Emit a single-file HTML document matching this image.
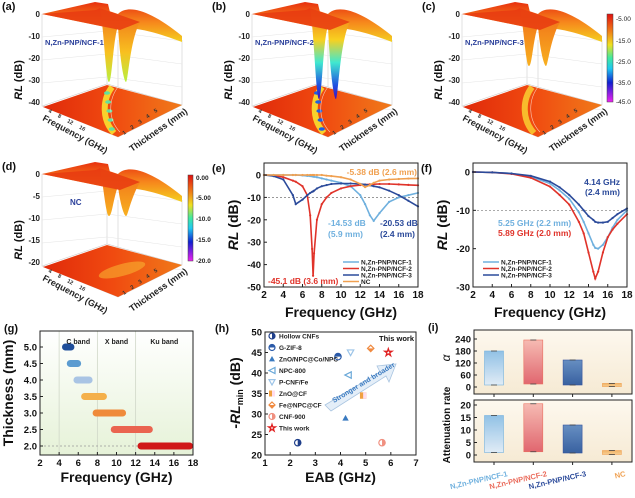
<!DOCTYPE html>
<html><head><meta charset="utf-8">
<style>
body{margin:0;background:#fff}
svg{display:block;font-family:"Liberation Sans",sans-serif;font-weight:bold}
</style></head>
<body>
<svg id="fig" width="635" height="498" viewBox="0 0 635 498" xmlns="http://www.w3.org/2000/svg">
<defs>
<linearGradient id="surf" x1="0" y1="0" x2="0" y2="1"><stop offset="0" stop-color="#e8300e"/><stop offset="0.5" stop-color="#f6861c"/><stop offset="1" stop-color="#f4d020"/></linearGradient>
<linearGradient id="dipA" x1="0" y1="0" x2="0" y2="1"><stop offset="0" stop-color="#f06a18"/><stop offset="0.6" stop-color="#f8c020"/><stop offset="1" stop-color="#b8f040"/></linearGradient>
<linearGradient id="dipB" x1="0" y1="0" x2="0" y2="1"><stop offset="0" stop-color="#f06a18"/><stop offset="0.35" stop-color="#f8d020"/><stop offset="0.6" stop-color="#40e8d0"/><stop offset="0.85" stop-color="#2050e0"/><stop offset="1" stop-color="#4010c0"/></linearGradient>
<linearGradient id="dipC" x1="0" y1="0" x2="0" y2="1"><stop offset="0" stop-color="#f06a18"/><stop offset="1" stop-color="#f8b020"/></linearGradient>
<linearGradient id="floor" x1="0" y1="0" x2="1" y2="0"><stop offset="0" stop-color="#e02a0a"/><stop offset="0.5" stop-color="#f04a10"/><stop offset="1" stop-color="#f07a1a"/></linearGradient>
<linearGradient id="cbar" x1="0" y1="0" x2="0" y2="1"><stop offset="0" stop-color="#e01010"/><stop offset="0.2" stop-color="#f08018"/><stop offset="0.35" stop-color="#f0e020"/><stop offset="0.5" stop-color="#40e8a0"/><stop offset="0.62" stop-color="#20c8f0"/><stop offset="0.78" stop-color="#1020d0"/><stop offset="1" stop-color="#f020f0"/></linearGradient>
<linearGradient id="gbg" x1="0" y1="0" x2="0" y2="1"><stop offset="0" stop-color="#ffffff"/><stop offset="1" stop-color="#e6f2d8"/></linearGradient>
<linearGradient id="ibg" x1="0" y1="0" x2="0" y2="1"><stop offset="0" stop-color="#fdf8ee"/><stop offset="1" stop-color="#f6ead4"/></linearGradient>
<linearGradient id="b1" x1="0" y1="0" x2="0" y2="1"><stop offset="0" stop-color="#8cbfe6"/><stop offset="1" stop-color="#e0ecf8"/></linearGradient>
<linearGradient id="b2" x1="0" y1="0" x2="0" y2="1"><stop offset="0" stop-color="#f6b8b0"/><stop offset="1" stop-color="#e0606a"/></linearGradient>
<linearGradient id="b3" x1="0" y1="0" x2="0" y2="1"><stop offset="0" stop-color="#5f8ac0"/><stop offset="1" stop-color="#2f5a9e"/></linearGradient>
<linearGradient id="b4" x1="0" y1="0" x2="0" y2="1"><stop offset="0" stop-color="#f0b060"/><stop offset="1" stop-color="#f7cc90"/></linearGradient>
</defs>

<g id="p3d"></g>

<g>
<rect x="607" y="14" width="6" height="88" fill="url(#cbar)" stroke="#444" stroke-width="0.5"/>
<g font-size="6.5" fill="#222" font-weight="normal">
<text x="616" y="21">-5.00</text><text x="616" y="43">-15.0</text><text x="616" y="64">-25.0</text><text x="616" y="85">-35.0</text><text x="616" y="104">-45.0</text></g>
</g>
<g>
<rect x="188" y="175" width="5" height="86" fill="url(#cbar)" stroke="#444" stroke-width="0.5"/>
<g font-size="6.5" fill="#222"><text x="196" y="180">0.00</text><text x="196" y="200">-5.00</text><text x="196" y="221">-10.0</text><text x="196" y="242">-15.0</text><text x="196" y="263">-20.0</text></g>
</g>

<g id="pe"></g><g id="pf"></g><g id="pg"></g><g id="ph"></g><g id="pi"></g>
</svg>
<script>
const NS='http://www.w3.org/2000/svg';
function mk(parent,tag,attrs,text){const e=document.createElementNS(NS,tag);for(const k in attrs)e.setAttribute(k,attrs[k]);if(text!==undefined)e.textContent=text;parent.appendChild(e);return e;}

const p3d=document.getElementById('p3d');
const panels3d=[{dx:0,dy:0,lab:'(a)',name:'N,Zn-PNP/NCF-1',dip:'dipA',depth:68,ticks:['0','-10','-20','-30','-40']},
{dx:210,dy:0,lab:'(b)',name:'N,Zn-PNP/NCF-2',dip:'dipB',depth:85,ticks:['0','-10','-20','-30','-40']},
{dx:420,dy:0,lab:'(c)',name:'N,Zn-PNP/NCF-3',dip:'dipC',depth:52,ticks:['0','-10','-20','-30','-40']},
{dx:0,dy:160,lab:'(d)',name:'NC',dip:'dipC',depth:42,ticks:['0','-5','-10','-15','-20']}];
panels3d.forEach((p,i)=>{
 const g=mk(p3d,'g',{transform:`translate(${p.dx},${p.dy})`});
 
 
 mk(g,'path',{d:'M42,14 L42,106 L118,137 L182,105 L182,40 M118,137 L118,40 M42,106 L107,84 L182,105 M107,84 L107,8',stroke:'#ccc','stroke-width':0.6,fill:'none'});
 for(let k=1;k<5;k++){const y=14+k*23;mk(g,'path',{d:`M42,${y} L107,${y-6} L182,${y+4}`,stroke:'#e4e4e4','stroke-width':0.5,fill:'none'});}
 mk(g,'polygon',{points:'43,107 107,85 182,105 118,137',fill:'url(#floor)'});
 if(i<3){mk(g,'path',{d:'M112,87 C102,100 102,120 114,133',stroke:i==2?'#f8c830':'#f8e030','stroke-width':6,fill:'none',opacity:0.9});
  if(i<2){for(let k=0;k<5;k++){mk(g,'ellipse',{cx:107+k*1.2,cy:93+k*9,rx:3,ry:1.8,fill:i==1?'#2060e0':'#60e0a0'});}}
  mk(g,'path',{d:'M118,87 C108,100 108,120 120,132',stroke:'#fff','stroke-width':0.6,fill:'none',opacity:0.7});}
 else{mk(g,'ellipse',{cx:122,cy:110,rx:24,ry:6,fill:'#f8b030',opacity:0.6,transform:'rotate(-15 122 110)'});}
 mk(g,'path',{d:'M42,14 L95,2 L108,4 C112,20 116,40 118,14 C128,4 150,10 182,36 L182,42 C150,30 130,26 120,30 Z',fill:'url(#surf)'});
 mk(g,'path',{d:`M100,8 C104,30 106,${14+p.depth} 109,${14+p.depth} C112,${14+p.depth} 113,40 118,26 C120,${14+p.depth*0.7} 124,${14+p.depth} 126,${14+p.depth} C128,${14+p.depth} 130,40 140,22 L118,14 Z`,fill:`url(#${p.dip})`});
 mk(g,'path',{d:'M42,14 L96,10 L100,8 L140,22 L120,30',fill:'#e83a10',opacity:0.85});
 mk(g,'text',{x:2,y:10,'font-size':11,fill:'#111'},p.lab);
 p.ticks.forEach((t,k)=>mk(g,'text',{x:40,y:17+k*22,'font-size':8,'text-anchor':'end',fill:'#222'},t));
 mk(g,'text',{x:0,y:0,'font-size':11,transform:'translate(22,80) rotate(-90)','text-anchor':'middle',fill:'#111'}).innerHTML='<tspan font-style="italic">RL</tspan> (dB)';
 mk(g,'text',{x:i==3?70:45,y:45,'font-size':i==3?8:7.5,fill:'#2a3f9a'},p.name);
 mk(g,'text',{x:0,y:0,'font-size':9,transform:'translate(42,120) rotate(28)',fill:'#222'},'Frequency (GHz)');
 mk(g,'text',{x:0,y:0,'font-size':5.5,transform:'translate(48,112) rotate(28)',fill:'#333',"word-spacing":"6"},'4 8 12 16');
 mk(g,'text',{x:0,y:0,'font-size':9,transform:'translate(132,152) rotate(-35)',fill:'#222'},'Thickness (mm)');
 mk(g,'text',{x:0,y:0,'font-size':5.5,transform:'translate(124,135) rotate(-35)',fill:'#333',"word-spacing":"5"},'1 2 3 4 5');
});

const eFreq=[2,3,4,5,5.3,6,6.5,6.8,7,7.1,7.2,7.5,8,8.5,9,10,11,12,12.5,13,13.4,14,15,16,17,18];
const eNCF1=[0,0,0,0,0,-0.2,-0.4,-0.5,-0.6,-0.7,-0.8,-1,-1.5,-2,-2.5,-3.5,-5,-9,-13,-18,-20.5,-17,-12,-10,-9,-8];
const eNCF2=[0,-0.2,-1,-2.5,-3,-5,-9,-18,-33,-45,-35,-20,-13,-10,-8,-6,-5,-4.5,-4.3,-4.2,-4.1,-4,-4,-4.2,-4.4,-4.6];
const eNCF3=[0,-0.5,-2,-9,-13,-11,-9,-8,-7.5,-7.3,-7,-6,-5,-4.5,-4,-3.8,-3.8,-4,-4.3,-4.6,-5,-5.5,-7,-9,-11.5,-14];
const eNC=[0,0,0,0,0,0,0,0,0,0,0,0,0,-0.3,-0.5,-1,-2,-4,-5.4,-4.5,-3.5,-2.5,-2,-1.8,-1.6,-1.5];
const eXTicks=[2,4,6,8,10,12,14,16,18];
const eYTicks=[0,-10,-20,-30,-40,-50];

const fFreq=[2,4,6,8,10,11,12,13,13.5,14,14.5,14.7,15,15.5,16,16.5,17,18];
const fNCF1=[0,-0.1,-0.4,-1.2,-3,-4.8,-7,-10.5,-13,-16,-19,-19.8,-20,-19,-17,-14.5,-12.5,-10];
const fNCF2=[0,-0.1,-0.5,-1.5,-3.8,-6,-8.5,-13,-16,-21,-26,-27.8,-26,-21,-17,-15,-13.5,-11];
const fNCF3=[0,-0.1,-0.4,-1,-2.5,-4,-6,-8.5,-10,-11.5,-12.5,-13,-13.2,-13.2,-13,-12,-11,-9.5];
const fXTicks=[2,4,6,8,10,12,14,16,18];
const fYTicks=[0,-10,-20,-30];

function lineChart(gid,cfg){
 const g=document.getElementById(gid);
 const sx=v=>cfg.x0+(v-cfg.xmin)/(cfg.xmax-cfg.xmin)*(cfg.x1-cfg.x0);
 const sy=v=>cfg.y0+(v-cfg.ymax)/(cfg.ymin-cfg.ymax)*(cfg.y1-cfg.y0);
 mk(g,'line',{x1:cfg.x0,x2:cfg.x1,y1:sy(-10),y2:sy(-10),stroke:'#777','stroke-width':0.7,'stroke-dasharray':'2,2'});
 cfg.series.forEach(s=>{
  const pts=cfg.xs.map((x,i)=>sx(x).toFixed(1)+','+sy(s.v[i]).toFixed(1)).join(' ');
  const pl=mk(g,'polyline',{points:pts,fill:'none',stroke:s.c,'stroke-width':1.6});
  
  
  cfg.xs.forEach((x,i)=>{const m=mk(g,'circle',{cx:sx(x),cy:sy(s.v[i]),r:1.1,fill:s.c});
   
   });
 });
 mk(g,'rect',{x:cfg.x0,y:cfg.top,width:cfg.x1-cfg.x0,height:cfg.y1-cfg.top,fill:'none',stroke:'#222','stroke-width':1});
 cfg.xt.forEach(t=>{mk(g,'line',{x1:sx(t),x2:sx(t),y1:cfg.y1,y2:cfg.y1-3,stroke:'#222'});
  const tx=mk(g,'text',{x:sx(t),y:cfg.y1+11,'font-size':10,'text-anchor':'middle',fill:'#111'},t);
  
  });
 cfg.yt.forEach(t=>{mk(g,'line',{x1:cfg.x0,x2:cfg.x0+3,y1:sy(t),y2:sy(t),stroke:'#222'});
  const tx=mk(g,'text',{x:cfg.x0-3,y:sy(t)+3.5,'font-size':9.5,'text-anchor':'end',fill:'#111'},t);
  
  });
 mk(g,'text',{x:(cfg.x0+cfg.x1)/2,y:cfg.y1+30,'font-size':14,'text-anchor':'middle',fill:'#111'},'Frequency (GHz)');
 mk(g,'text',{transform:`translate(${cfg.x0-26},${(cfg.top+cfg.y1)/2}) rotate(-90)`,'font-size':14,'text-anchor':'middle',fill:'#111'}).innerHTML='<tspan font-style="italic">RL</tspan> (dB)';
 mk(g,'text',{x:cfg.x0-52,y:cfg.top+9,'font-size':11,fill:'#111'},cfg.lab);
 cfg.series.forEach((s,i)=>{const y=cfg.legY+i*6.5;
  mk(g,'line',{x1:cfg.legX,x2:cfg.legX+16,y1:y,y2:y,stroke:s.c,'stroke-width':1.5});
  mk(g,'text',{x:cfg.legX+18,y:y+2.5,'font-size':6.5,fill:'#222'},s.label);});
 return {sx,sy,g};
}
const E=lineChart('pe',{x0:264,x1:418,top:163,y0:175,y1:287,xmin:2,xmax:18,ymax:0,ymin:-50,xs:eFreq,xt:eXTicks,yt:eYTicks,lab:'(e)',legX:343,legY:262,
 series:[{n:'ncf1',c:'#6fb0de',v:eNCF1,label:'N,Zn-PNP/NCF-1'},{n:'ncf2',c:'#e0332a',v:eNCF2,label:'N,Zn-PNP/NCF-2'},{n:'ncf3',c:'#2b4a9a',v:eNCF3,label:'N,Zn-PNP/NCF-3'},{n:'nc',c:'#f0a050',v:eNC,label:'NC'}]});
document.getElementById('pe');
document.getElementById('pe');
(()=>{const g=E.g;
mk(g,'text',{x:417,y:175,'font-size':8.5,'text-anchor':'end',fill:'#f0a050'},'-5.38 dB (2.6 mm)');
mk(g,'text',{x:328,y:226,'font-size':8.5,fill:'#6fb0de'},'-14.53 dB');
mk(g,'text',{x:328,y:237,'font-size':8.5,fill:'#6fb0de'},'(5.9 mm)');
mk(g,'text',{x:380,y:226,'font-size':8.5,fill:'#2b4a9a'},'-20.53 dB');
mk(g,'text',{x:380,y:237,'font-size':8.5,fill:'#2b4a9a'},'(2.4 mm)');
mk(g,'text',{x:268,y:284,'font-size':8.5,fill:'#e0332a'},'-45.1 dB (3.6 mm)');})();

const F=lineChart('pf',{x0:473,x1:627,top:163,y0:172,y1:287,xmin:2,xmax:18,ymax:0,ymin:-30,xs:fFreq,xt:fXTicks,yt:fYTicks,lab:'(f)',legX:483,legY:262,
 series:[{n:'ncf1',c:'#6fb0de',v:fNCF1,label:'N,Zn-PNP/NCF-1'},{n:'ncf2',c:'#e0332a',v:fNCF2,label:'N,Zn-PNP/NCF-2'},{n:'ncf3',c:'#2b4a9a',v:fNCF3,label:'N,Zn-PNP/NCF-3'}]});
document.getElementById('pf');
document.getElementById('pf');
(()=>{const g=F.g;
mk(g,'text',{x:620,y:185,'font-size':8.5,'text-anchor':'end',fill:'#2b4a9a'},'4.14 GHz');
mk(g,'text',{x:620,y:195,'font-size':8.5,'text-anchor':'end',fill:'#2b4a9a'},'(2.4 mm)');
mk(g,'text',{x:498,y:226,'font-size':8.5,fill:'#6fb0de'},'5.25 GHz (2.2 mm)');
mk(g,'text',{x:498,y:236,'font-size':8.5,fill:'#e0332a'},'5.89 GHz (2.0 mm)');})();

const gThick=[5.0,4.5,4.0,3.5,3.0,2.5,2.0];
const gStart=[4.3,4.8,5.5,6.3,7.5,9.4,12.2];
const gEnd=[5.6,6.3,7.5,9.0,11.0,13.8,18];
const gXTicks=[2,4,6,8,10,12,14,16,18];
const gYTicks=[5.0,4.5,4.0,3.5,3.0,2.5,2.0];
(()=>{const g=document.getElementById('pg');


const x0=40,x1=193,top=331,bot=455;
const sx=v=>x0+(v-2)/16*(x1-x0), sy=v=>347+(5-v)/3*99;
const cols=['#1f4e9a','#5b9bd0','#a9c4e4','#f4b04a','#ef8a3a','#ea6450','#d01818'];
mk(g,'rect',{x:x0,y:top,width:x1-x0,height:bot-top,fill:'url(#gbg)'});
[4,8,12].forEach(b=>mk(g,'line',{x1:sx(b),x2:sx(b),y1:top,y2:bot,stroke:'#d0d8c8','stroke-width':0.8}));
mk(g,'line',{x1:x0,x2:x1,y1:sy(2),y2:sy(2),stroke:'#999','stroke-dasharray':'2,2','stroke-width':0.7});
gThick.forEach((t,i)=>{const r=mk(g,'rect',{x:sx(gStart[i]),y:sy(t)-3.5,width:sx(gEnd[i])-sx(gStart[i]),height:7,rx:3.5,fill:cols[i]});
 
 });
mk(g,'text',{x:sx(6),y:344,'font-size':7,'text-anchor':'middle',fill:'#222'},'C band');
mk(g,'text',{x:sx(10),y:344,'font-size':7,'text-anchor':'middle',fill:'#222'},'X band');
mk(g,'text',{x:sx(15),y:344,'font-size':7,'text-anchor':'middle',fill:'#222'},'Ku band');
mk(g,'rect',{x:x0,y:top,width:x1-x0,height:bot-top,fill:'none',stroke:'#222'});
gXTicks.forEach(t=>{mk(g,'line',{x1:sx(t),x2:sx(t),y1:bot,y2:bot-3,stroke:'#222'});mk(g,'text',{x:sx(t),y:bot+11,'font-size':9.5,'text-anchor':'middle',fill:'#111'},t);});
gYTicks.forEach(t=>{mk(g,'line',{x1:x0,x2:x0+3,y1:sy(t),y2:sy(t),stroke:'#222'});mk(g,'text',{x:x0-3,y:sy(t)+3.5,'font-size':9.5,'text-anchor':'end',fill:'#111'},t.toFixed(1));});
mk(g,'text',{x:(x0+x1)/2,y:482,'font-size':14,'text-anchor':'middle',fill:'#111'},'Frequency (GHz)');
mk(g,'text',{transform:`translate(13,393) rotate(-90)`,'font-size':14,'text-anchor':'middle',fill:'#111'},'Thickness (mm)');
mk(g,'text',{x:4,y:332,'font-size':11,fill:'#111'},'(g)');})();

const hNames=['Hollow CNFs','G-ZIF-8','ZnO/NPC@Co/NPC','NPC-800','P-CNF/Fe','ZnO@CF','Fe@NPC@CF','CNF-900','This work'];
const hEAB=[2.3,3.9,4.2,4.3,4.4,4.9,5.2,5.65,5.9];
const hRL=[23,44,29,39.5,45,34.5,46,23,45];
const hXTicks=[1,2,3,4,5,6,7];
const hYTicks=[20,25,30,35,40,45,50];
(()=>{const g=document.getElementById('ph');


const x0=265,x1=416,top=332,bot=455;
const sx=v=>x0+(v-1)/6*(x1-x0), sy=v=>bot-(v-20)/30*(bot-top);
const cols=['#1f3f8a','#2b5aa8','#3a7ac0','#6aa8d8','#9cc4e8','#f0a040','#f08a40','#f09080','#e02020'];
function marker(kind,x,y,c,s){
 if(kind==0||kind==1||kind==7){mk(g,'circle',{cx:x,cy:y,r:s,fill:'#fff',stroke:c,'stroke-width':1.2});mk(g,'path',{d:kind==1?`M${x-s},${y} A${s},${s} 0 0 1 ${x+s},${y}Z`:`M${x},${y-s} A${s},${s} 0 0 1 ${x},${y+s}Z`,fill:c});}
 else if(kind==2){mk(g,'polygon',{points:`${x},${y-s} ${x+s},${y+s*0.8} ${x-s},${y+s*0.8}`,fill:c});}
 else if(kind==3){mk(g,'polygon',{points:`${x-s},${y} ${x+s},${y-s} ${x+s},${y+s}`,fill:'#fff',stroke:c,'stroke-width':1.2});}
 else if(kind==4){mk(g,'polygon',{points:`${x-s},${y-s*0.8} ${x+s},${y-s*0.8} ${x},${y+s}`,fill:'#fff',stroke:c,'stroke-width':1.2});}
 else if(kind==5){mk(g,'rect',{x:x-s,y:y-s,width:2*s,height:2*s,fill:c});mk(g,'rect',{x:x,y:y-s,width:s,height:2*s,fill:'#fde'});}
 else if(kind==6){mk(g,'polygon',{points:`${x},${y-s} ${x+s},${y} ${x},${y+s} ${x-s},${y}`,fill:'#fff',stroke:c,'stroke-width':1.2});mk(g,'polygon',{points:`${x-s},${y} ${x+s},${y} ${x},${y+s}`,fill:c});}
 else {let p=[];for(let k=0;k<10;k++){const a=-Math.PI/2+k*Math.PI/5,r=k%2?s*0.45:s*1.2;p.push((x+r*Math.cos(a)).toFixed(1)+','+(y+r*Math.sin(a)).toFixed(1));}mk(g,'polygon',{points:p.join(' '),fill:'#fff',stroke:c,'stroke-width':1.3});}
}
mk(g,'polygon',{points:'325,405 380,372 377,366 396,364 389,382 386,376 331,411',fill:'#e4eef8',stroke:'#a8c4e0','stroke-width':0.8});
mk(g,'text',{transform:'translate(334,403) rotate(-31)','font-size':7,fill:'#3a7ac0'},'Stronger and broader');
hNames.forEach((n,i)=>{
 marker(i,sx(hEAB[i]),sy(hRL[i]),cols[i],3.2);
 const ly=336+i*11.5; marker(i,272,ly,cols[i],3);
 const t=mk(g,'text',{x:279,y:ly+2.5,'font-size':6.5,fill:'#222'},n);
 
 });
mk(g,'text',{x:414,y:341,'font-size':7.5,'text-anchor':'end',fill:'#111'},'This work');
mk(g,'rect',{x:x0,y:top,width:x1-x0,height:bot-top,fill:'none',stroke:'#222'});
hXTicks.forEach(t=>{mk(g,'line',{x1:sx(t),x2:sx(t),y1:bot,y2:bot-3,stroke:'#222'});mk(g,'text',{x:sx(t),y:bot+11,'font-size':9.5,'text-anchor':'middle',fill:'#111'},t);});
hYTicks.forEach(t=>{mk(g,'line',{x1:x0,x2:x0+3,y1:sy(t),y2:sy(t),stroke:'#222'});mk(g,'text',{x:x0-3,y:sy(t)+3.5,'font-size':9.5,'text-anchor':'end',fill:'#111'},t);});
mk(g,'text',{x:(x0+x1)/2,y:482,'font-size':14,'text-anchor':'middle',fill:'#111'},'EAB (GHz)');
mk(g,'text',{transform:`translate(240,393) rotate(-90)`,'font-size':14,'text-anchor':'middle',fill:'#111'}).innerHTML='-<tspan font-style="italic">RL</tspan><tspan font-size="9" dy="3">min</tspan><tspan dy="-3"> (dB)</tspan>';
mk(g,'text',{x:215,y:332,'font-size':11,fill:'#111'},'(h)');})();

const iCats=['N,Zn-PNP/NCF-1','N,Zn-PNP/NCF-2','N,Zn-PNP/NCF-3','NC'];
const iAlphaTop=[180,235,135,18];
const iAlphaBot=[10,15,10,2];
const iRateTop=[15.8,20.5,12,1.8];
const iRateBot=[1,1.3,0.8,0.2];
const iAlphaTicks=[0,60,120,180,240];
const iRateTicks=[0,5,10,15,20];
(()=>{const g=document.getElementById('pi');


const x0=474,x1=632;
const sxc=i=>494+i*39.3;
const fills=['url(#b1)','url(#b2)','url(#b3)','url(#b4)'];
const tcol=['#6fb0de','#ea6a5a','#2b4a9a','#f0a050'];
function sub(top,bot,zeroY,maxV,maxY,tops,bots,ticks,ylab){
 const sy=v=>zeroY-(v/maxV)*(zeroY-maxY);
 mk(g,'rect',{x:x0,y:top,width:x1-x0,height:bot-top,fill:'url(#ibg)',stroke:'#222'});
 tops.forEach((v,i)=>{const cx=sxc(i);const r=mk(g,'rect',{x:cx-9.5,y:sy(v),width:19,height:sy(bots[i])-sy(v),fill:fills[i],stroke:tcol[i],'stroke-width':0.6,opacity:0.95});
  
  
  [v,bots[i]].forEach(w=>{mk(g,'line',{x1:cx-3,x2:cx+3,y1:sy(w),y2:sy(w),stroke:'#444','stroke-width':0.8});});
  mk(g,'line',{x1:cx,x2:cx,y1:bot,y2:bot+3,stroke:'#222'});});
 ticks.forEach(t=>{mk(g,'line',{x1:x0,x2:x0+3,y1:sy(t),y2:sy(t),stroke:'#222'});mk(g,'text',{x:x0-3,y:sy(t)+3.5,'font-size':9.5,'text-anchor':'end',fill:'#111'},t);});
}
sub(330,394,387,240,339,iAlphaTop,iAlphaBot,iAlphaTicks,'alpha');
sub(400,462,455,20,405,iRateTop,iRateBot,iRateTicks,'rate');
mk(g,'text',{transform:'translate(450,358) rotate(-90)','font-size':12,'font-style':'italic','font-weight':'normal','text-anchor':'middle',fill:'#111'},'α');
mk(g,'text',{transform:'translate(450,425) rotate(-90)','font-size':10,'text-anchor':'middle',fill:'#111'},'Attenuation rate');
mk(g,'text',{x:428,y:331,'font-size':11,fill:'#111'},'(i)');
iCats.forEach((c,i)=>{const t=mk(g,'text',{transform:`translate(${sxc(i)+14},476) rotate(-13)`,'font-size':7.5,'text-anchor':'end',fill:tcol[i]},c);
 
 });})();
</script>
</body></html>
